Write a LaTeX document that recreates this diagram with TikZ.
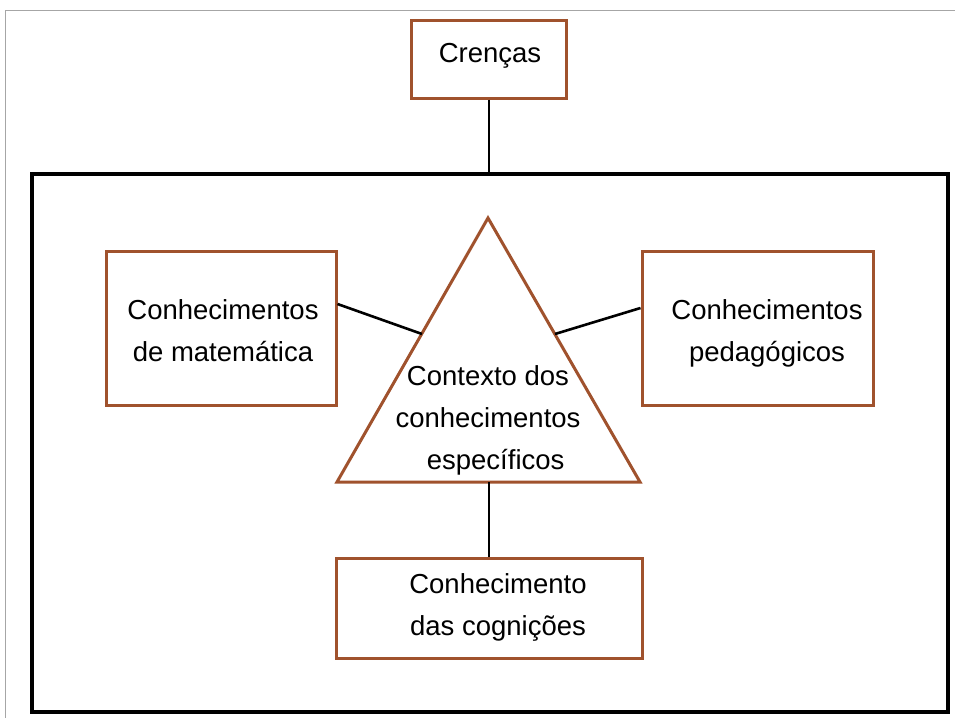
\documentclass[tikz,border=0pt]{standalone}
\usepackage{fontspec}
\setmainfont{Liberation Sans}
\definecolor{brownline}{HTML}{A0522D}
\begin{document}
\begin{tikzpicture}[x=1pt,y=-1pt,
  bbox/.style={draw=brownline,line width=3pt,fill=white,inner sep=0pt},
  conn/.style={draw=black,line width=2.6pt},
  lbl/.style={font=\fontsize{27.5}{42}\selectfont,align=center,text=black}]
\useasboundingbox (0,0) rectangle (955,718);
\fill[white] (0,0) rectangle (955,718);
\draw[gray!70,line width=1pt] (955,10) -- (5,10) -- (5,718);
\draw[line width=3.2pt] (32,174) rectangle (948,712);
% boxes
\node[bbox,minimum width=155pt,minimum height=78pt] (cren) at (489,59) {};
\node[lbl] at (490,56) {Crenças};
\node[bbox,minimum width=230pt,minimum height=154pt] (mat) at (221,328) {};
\node[lbl] at (223,331) {Conhecimentos\\de matemática};
\node[bbox,minimum width=231pt,minimum height=154pt] (ped) at (757.5,328) {};
\node[lbl] at (767,333) {Conhecimentos\\pedagógicos};
\node[bbox,minimum width=306pt,minimum height=100pt] (cog) at (489,608) {};
\node[lbl] at (498,607) {Conhecimento\\das cognições};
% triangle
\coordinate (apex) at (488,218);
\coordinate (bl) at (337,482);
\coordinate (br) at (640,482);
\draw[brownline,line width=3pt,fill=white,line join=miter] (apex) -- (bl) -- (br) -- cycle;
\node[lbl] (ctx) at (488,420) {Contexto dos\\conhecimentos\\\ \ específicos};
\coordinate (tl) at (422,334);
\coordinate (tr) at (555,334);
\coordinate (tb) at (489,482);
% connectors
\draw[conn] (cren.south) -- (cren.south |- 0,174);
\draw[conn] (mat.east |- 0,304) -- (tl);
\draw[conn] (ped.west |- 0,308) -- (tr);
\draw[conn] (tb) -- (cog.north);
\end{tikzpicture}
\end{document}
